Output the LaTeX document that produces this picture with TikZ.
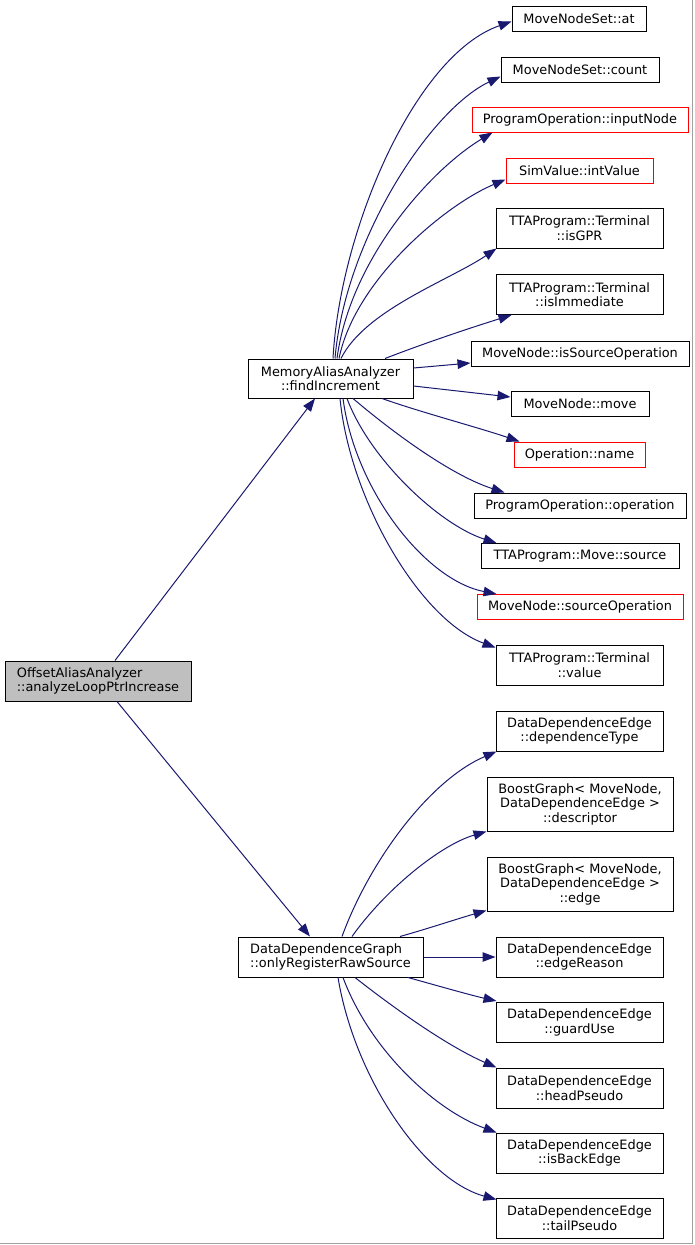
\documentclass[tikz,border=0pt]{standalone}
\usepackage{fontspec}
\setmainfont{DejaVu Sans}
\usetikzlibrary{arrows.meta,calc}
\definecolor{edgeblue}{RGB}{25,25,112}
\definecolor{rootgray}{RGB}{191,191,191}
\definecolor{framegray}{RGB}{160,160,160}
\begin{document}
\begin{tikzpicture}[x=1pt,y=-1pt,
  fn/.style={draw=black, line width=1pt, inner sep=0pt, fill=white,
    font=\fontsize{12.9}{14.5}\selectfont, align=center},
  redfn/.style={fn, draw=red},
  callarrow/.style={draw=edgeblue, line width=1pt, -{Triangle[length=13pt,width=9.5pt]}, fill=none}]
\useasboundingbox (0,0) rectangle (695,1245);
\draw[framegray, line width=1pt] (692.5,0) -- (692.5,1243.5) -- (0,1243.5);

% main nodes
\node[fn, fill=rootgray, align=left, minimum width=186, minimum height=40] (nRoot) at (98,681) {OffsetAliasAnalyzer\\::analyzeLoopPtrIncrease};
\node[fn, minimum width=165, minimum height=39] (nMem) at (330.5,378.5) {MemoryAliasAnalyzer\\::findIncrement};
\node[fn, align=left, minimum width=185, minimum height=40] (nDdg) at (330.5,957) {DataDependenceGraph\\::onlyRegisterRawSource};

% MemoryAliasAnalyzer callees
\node[fn, minimum width=134, minimum height=25] (nAt) at (579,18.5) {MoveNodeSet::at};
\node[fn, minimum width=158, minimum height=25] (nCount) at (580,69.5) {MoveNodeSet::count};
\node[redfn, minimum width=216, minimum height=25] (nInput) at (580,119.5) {ProgramOperation::inputNode};
\node[redfn, minimum width=147, minimum height=25] (nInt) at (579.5,170.5) {SimValue::intValue};
\node[fn, minimum width=167, minimum height=40] (nGpr) at (579.5,228) {TTAProgram::Terminal\\::isGPR};
\node[fn, minimum width=167, minimum height=40] (nImm) at (579.5,294.5) {TTAProgram::Terminal\\::isImmediate};
\node[fn, minimum width=218, minimum height=25] (nIsSrc) at (580,353.5) {MoveNode::isSourceOperation};
\node[fn, minimum width=138, minimum height=25] (nMove) at (580,404) {MoveNode::move};
\node[redfn, minimum width=131, minimum height=25] (nName) at (579.5,454.5) {Operation::name};
\node[fn, minimum width=212, minimum height=25] (nOper) at (580,505.5) {ProgramOperation::operation};
\node[fn, minimum width=198, minimum height=25] (nSrc) at (580,556) {TTAProgram::Move::source};
\node[redfn, minimum width=206, minimum height=25] (nSrcOp) at (580,607) {MoveNode::sourceOperation};
\node[fn, minimum width=167, minimum height=40] (nVal) at (579.5,665) {TTAProgram::Terminal\\::value};

% DataDependenceGraph callees
\node[fn, minimum width=167, minimum height=40] (nDep) at (579.5,731) {DataDependenceEdge\\::dependenceType};
\node[fn, minimum width=186, minimum height=54] (nDesc) at (580,804) {BoostGraph< MoveNode,\\DataDependenceEdge >\\::descriptor};
\node[fn, minimum width=186, minimum height=54] (nEdge) at (580,884) {BoostGraph< MoveNode,\\DataDependenceEdge >\\::edge};
\node[fn, minimum width=167, minimum height=40] (nReason) at (579.5,957) {DataDependenceEdge\\::edgeReason};
\node[fn, minimum width=167, minimum height=40] (nGuard) at (579.5,1022.5) {DataDependenceEdge\\::guardUse};
\node[fn, minimum width=167, minimum height=40] (nHead) at (579.5,1088) {DataDependenceEdge\\::headPseudo};
\node[fn, minimum width=167, minimum height=40] (nBack) at (579.5,1153) {DataDependenceEdge\\::isBackEdge};
\node[fn, minimum width=167, minimum height=40] (nTail) at (579.5,1218) {DataDependenceEdge\\::tailPseudo};

% root edges
\draw[callarrow] ([xshift=17pt]nRoot.north) -- ([xshift=-15.5pt]nMem.south);
\draw[callarrow] ([xshift=19pt]nRoot.south) -- ([xshift=-20.5pt]nDdg.north);

% MemoryAliasAnalyzer edges
\draw[callarrow] ([xshift=2.5pt]nMem.north) .. controls (340,230) and (415,55) .. ([yshift=-3pt]nAt.west);
\draw[callarrow] ([xshift=4.5pt]nMem.north) .. controls (345,240) and (430,110) .. ([yshift=-7pt]nCount.west);
\draw[callarrow] ([xshift=6.5pt]nMem.north) .. controls (350,260) and (430,170) .. ([xshift=21pt]nInput.south west);
\draw[callarrow] ([xshift=8.5pt]nMem.north) .. controls (355,280) and (445,205) .. ([yshift=-9pt]nInt.west);
\draw[callarrow] ([xshift=10.5pt]nMem.north) .. controls (365,310) and (450,280) .. ([xshift=1pt]nGpr.south west);
\draw[callarrow] ([xshift=54.5pt]nMem.north) .. controls (425,343) and (470,328) .. ([xshift=16pt]nImm.south west);
\draw[callarrow] ([yshift=10.5pt]nMem.east) -- ([yshift=-9.5pt]nIsSrc.west);
\draw[callarrow] ([yshift=-7.5pt]nMem.east) -- ([yshift=7pt]nMove.west);
\draw[callarrow] ([xshift=51.5pt]nMem.south) .. controls (420,412) and (480,428) .. ([xshift=6pt]nName.north west);
\draw[callarrow] ([xshift=22.5pt]nMem.south) .. controls (390,430) and (450,475) .. ([xshift=31pt]nOper.north west);
\draw[callarrow] ([xshift=16.5pt]nMem.south) .. controls (370,460) and (440,525) .. ([xshift=16pt]nSrc.north west);
\draw[callarrow] ([xshift=12.5pt]nMem.south) .. controls (355,490) and (425,580) .. ([xshift=20pt]nSrcOp.north west);
\draw[callarrow] ([xshift=9.5pt]nMem.south) .. controls (350,500) and (420,620) .. ([yshift=-3pt]nVal.north west);

% DataDependenceGraph edges
\draw[callarrow] ([xshift=11.5pt]nDdg.north) .. controls (370,860) and (430,780) .. ([xshift=1pt]nDep.south west);
\draw[callarrow] ([xshift=21.5pt]nDdg.north) .. controls (385,890) and (440,845) .. (nDesc.south west);
\draw[callarrow] ([xshift=69.5pt]nDdg.north) .. controls (430,928) and (460,918) .. ([yshift=1pt]nEdge.south west);
\draw[callarrow] (nDdg.east) -- (nReason.west);
\draw[callarrow] ([xshift=77.5pt]nDdg.south) .. controls (435,985) and (470,995) .. ([xshift=1pt,yshift=1pt]nGuard.north west);
\draw[callarrow] ([xshift=24.5pt]nDdg.south) .. controls (390,1005) and (445,1045) .. ([xshift=1pt]nHead.north west);
\draw[callarrow] ([xshift=12.5pt]nDdg.south) .. controls (370,1050) and (435,1110) .. ([xshift=1pt]nBack.north west);
\draw[callarrow] ([xshift=7.5pt]nDdg.south) .. controls (355,1080) and (425,1180) .. ([xshift=1pt,yshift=-2pt]nTail.north west);
\end{tikzpicture}
\end{document}
